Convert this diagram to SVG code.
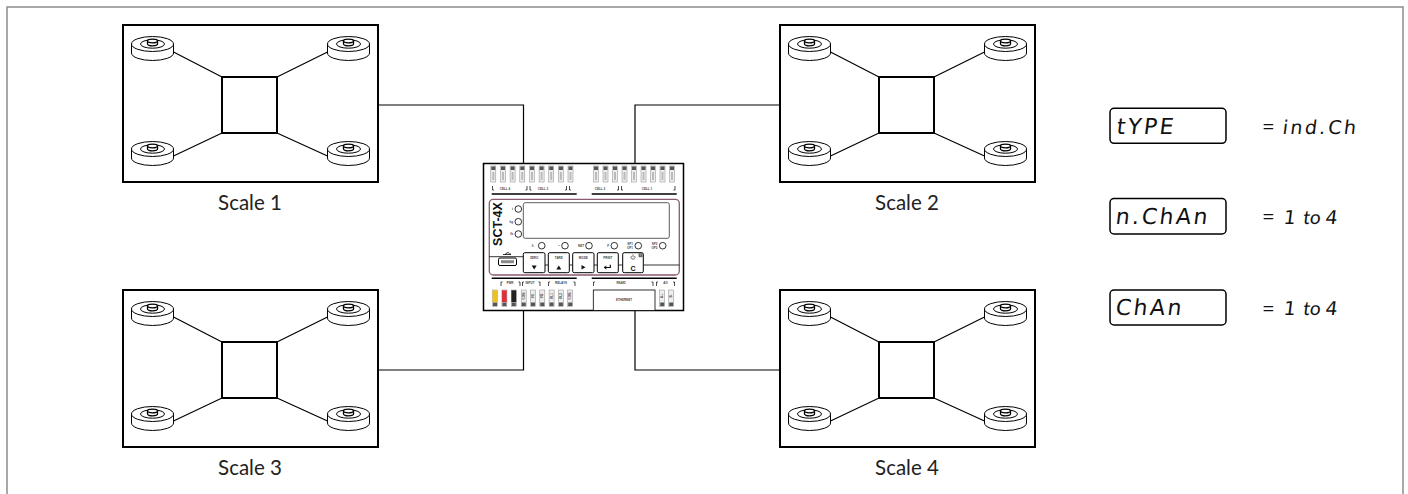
<svg xmlns="http://www.w3.org/2000/svg" xmlns:xlink="http://www.w3.org/1999/xlink" width="1408" height="494" viewBox="0 0 1408 494">
<style>
.frame{fill:none;stroke:#8c8c8c;stroke-width:1.5}
.ln{fill:none;stroke:#000}
.box{fill:#fff;stroke:#000;stroke-width:2}
.lbl{font-family:'Lato','Liberation Sans',sans-serif;font-weight:400;font-size:20.5px;fill:#222}
.seg{font-family:'DejaVu Sans',sans-serif;font-size:22px;letter-spacing:2.5px;fill:#111}
.seg2{font-family:'DejaVu Sans',sans-serif;font-size:19px;letter-spacing:2.5px;fill:#111}
.eq{font-family:'Lato','Liberation Sans',sans-serif;font-size:22px;fill:#111}
.to{font-family:'Lato','Liberation Sans',sans-serif;font-size:19px;fill:#111}
.tiny{font-family:'Liberation Sans',Arial,sans-serif;font-size:3px;font-weight:bold;fill:#444}
.btn{fill:#fff;stroke:#000;stroke-width:1}
.led{fill:#fff;stroke:#000;stroke-width:0.8}
.term{fill:#eee;stroke:#888;stroke-width:0.5}
.bar{stroke:#000;stroke-width:1.6}
.conn{fill:none;stroke:#000;stroke-width:1.2}
.disp{fill:#fff;stroke:#000;stroke-width:1.5}
</style>
<defs>
<g id="cell">
<path d="M-21 0 V9 A21 7.5 0 0 0 21 9 V0" fill="#fff" stroke="#000" stroke-width="1"/>
<ellipse rx="21" ry="7.5" fill="#fff" stroke="#000" stroke-width="1"/>
<ellipse rx="12" ry="4.2" fill="none" stroke="#000" stroke-width="1"/>
<path d="M-5 -3 V0 A5 1.8 0 0 0 5 0 V-3" fill="#fff" stroke="#000" stroke-width="1.3"/>
<ellipse cy="-3" rx="5" ry="1.8" fill="#fff" stroke="#000" stroke-width="1.3"/>
</g>
<g id="scaleBody">
<rect class="box" x="0" y="0" width="255" height="157"/>
<path class="ln" stroke-width="1.2" d="M50.5 27 L99 52 M204.5 27 L154 52 M50.5 131 L99 108 M204.5 131 L154 108"/>
<rect x="99" y="52" width="55" height="56" fill="#fff" stroke="#000" stroke-width="2"/>
<use xlink:href="#cell" x="29.5" y="19"/>
<use xlink:href="#cell" x="225.5" y="19"/>
<use xlink:href="#cell" x="29.5" y="124"/>
<use xlink:href="#cell" x="225.5" y="124"/>
</g>
<g id="tterm">
<rect class="term" x="-2.5" y="0" width="5" height="16"/>
<rect x="-2" y="0.5" width="4" height="3.5" fill="#555"/>
<rect x="-1" y="6" width="2" height="8" fill="#bbb"/>
</g>
<g id="bterm">
<rect class="term" x="-2.5" y="0" width="5" height="16.5"/>
<rect x="-2" y="12.5" width="4" height="3.5" fill="#555"/>
</g>
</defs>

<rect class="frame" x="7" y="7" width="1396" height="500"/>

<g id="connectors">
<path class="conn" d="M277 105 H523.5 V163.5"/>
<path class="conn" d="M879 105 H635 V163.5"/>
<path class="conn" d="M277 370 H523.5 V310.5"/>
<path class="conn" d="M879 370 H635 V310.5"/>
</g>

<g id="scale1">
<use xlink:href="#scaleBody" x="123" y="25"/>
<text class="lbl" x="250" y="210" text-anchor="middle">Scale 1</text>
</g>
<g id="scale2">
<use xlink:href="#scaleBody" x="780" y="25"/>
<text class="lbl" x="907" y="210" text-anchor="middle">Scale 2</text>
</g>
<g id="scale3">
<use xlink:href="#scaleBody" x="123" y="290"/>
<text class="lbl" x="250" y="475" text-anchor="middle">Scale 3</text>
</g>
<g id="scale4">
<use xlink:href="#scaleBody" x="780" y="290"/>
<text class="lbl" x="907" y="475" text-anchor="middle">Scale 4</text>
</g>

<g id="device">
<rect x="483.5" y="163.5" width="200" height="147" fill="#fff" stroke="#000" stroke-width="1.5"/>
<g transform="translate(0,166)">
<use xlink:href="#tterm" x="493.3"/><use xlink:href="#tterm" x="503"/><use xlink:href="#tterm" x="512.6"/><use xlink:href="#tterm" x="522.3"/><use xlink:href="#tterm" x="532"/><use xlink:href="#tterm" x="541.6"/><use xlink:href="#tterm" x="551.2"/><use xlink:href="#tterm" x="560.9"/><use xlink:href="#tterm" x="570.5"/>
<use xlink:href="#tterm" x="596"/><use xlink:href="#tterm" x="605.5"/><use xlink:href="#tterm" x="615"/><use xlink:href="#tterm" x="624.5"/><use xlink:href="#tterm" x="634"/><use xlink:href="#tterm" x="643.5"/><use xlink:href="#tterm" x="653"/><use xlink:href="#tterm" x="662.5"/><use xlink:href="#tterm" x="672"/>
</g>
<path class="ln" stroke-width="0.7" d="M492.5 186 V190 H494 M527 186 V190 H525.5 M530 186 V190 H531.5 M566.5 186 V190 H565 M569.5 186 V190 H571 M618.5 186 V190 H617 M621.5 186 V190 H623 M675 186 V190 H673.5"/>
<text class="tiny" x="505" y="190" text-anchor="middle">CELL 4</text>
<text class="tiny" x="543" y="190" text-anchor="middle">CELL 3</text>
<text class="tiny" x="600" y="190" text-anchor="middle">CELL 2</text>
<text class="tiny" x="647" y="190" text-anchor="middle">CELL 1</text>
<line class="bar" x1="491.7" y1="194" x2="576.7" y2="194"/>
<line class="bar" x1="591.7" y1="194" x2="676.7" y2="194"/>
<rect x="489.3" y="199.3" width="190" height="75.7" rx="4" fill="none" stroke="#8b5a72" stroke-width="1.3"/>
<rect x="523.3" y="202.7" width="146" height="35.6" rx="2" fill="none" stroke="#333" stroke-width="0.8"/>
<text transform="translate(501.5,224) rotate(-90)" text-anchor="middle" font-family="'Liberation Sans',Arial,sans-serif" font-weight="bold" font-size="12.5" fill="#111">SCT-4X</text>
<circle class="led" cx="518.3" cy="209" r="3.3"/>
<circle class="led" cx="518.3" cy="221.7" r="3.3"/>
<circle class="led" cx="518.3" cy="234" r="3.3"/>
<text class="tiny" x="513" y="210" text-anchor="end">t</text>
<text class="tiny" x="513" y="222.7" text-anchor="end">kg</text>
<text class="tiny" x="513" y="235" text-anchor="end">lb</text>
<circle class="led" cx="541.7" cy="245.7" r="3.3"/>
<circle class="led" cx="565" cy="245.7" r="3.3"/>
<circle class="led" cx="589" cy="245.7" r="3.3"/>
<circle class="led" cx="614.3" cy="245.7" r="3.3"/>
<circle class="led" cx="638.3" cy="245.7" r="3.3"/>
<circle class="led" cx="662.7" cy="245.7" r="3.3"/>
<text class="tiny" x="536.5" y="246.7" text-anchor="end">→0←</text>
<text class="tiny" x="560" y="246.7" text-anchor="end">~</text>
<text class="tiny" x="584" y="246.7" text-anchor="end">NET</text>
<text class="tiny" x="609" y="246.7" text-anchor="end">F</text>
<text class="tiny" x="633" y="245" text-anchor="end">SP1</text>
<text class="tiny" x="633" y="248.5" text-anchor="end">OP1</text>
<text class="tiny" x="657.5" y="245" text-anchor="end">SP2</text>
<text class="tiny" x="657.5" y="248.5" text-anchor="end">OP2</text>
<path class="ln" stroke-width="0.8" d="M489.3 256.7 H523.3 M545 265 H548.3 M569.3 265 H572.7 M594 265 H597.3 M618.3 265 H622.7 M643.3 265 H679.3"/>
<rect x="498.5" y="258" width="18" height="7.5" rx="1.5" fill="#fff" stroke="#000" stroke-width="1"/>
<rect x="501" y="260.2" width="13" height="3" fill="#888"/>
<path d="M503 254.5 H511 M505 254.5 L507 252.8 H509 M510 254.5 V253" stroke="#000" stroke-width="0.8" fill="none"/>
<rect class="btn" x="523.3" y="252.7" width="21.7" height="20" rx="1.5"/>
<rect class="btn" x="548.3" y="252.7" width="21" height="20" rx="1.5"/>
<rect class="btn" x="572.7" y="252.7" width="21.3" height="20" rx="1.5"/>
<rect class="btn" x="597.3" y="252.7" width="21" height="20" rx="1.5"/>
<rect class="btn" x="622.7" y="252.7" width="20.6" height="20" rx="1.5"/>
<text class="tiny" x="534.2" y="259" text-anchor="middle">ZERO</text>
<text class="tiny" x="558.8" y="259" text-anchor="middle">TARE</text>
<text class="tiny" x="583.3" y="259" text-anchor="middle">MODE</text>
<text class="tiny" x="607.8" y="259" text-anchor="middle">PRINT</text>
<polygon points="531.7,265.5 536.7,265.5 534.2,269.5" fill="#111"/>
<polygon points="556.3,269.5 561.3,269.5 558.8,265.5" fill="#111"/>
<polygon points="581.5,265 581.5,269.5 585.5,267.25" fill="#111"/>
<path d="M610.3 264.8 V267.5 H606" fill="none" stroke="#111" stroke-width="1.2"/>
<polygon points="606.3,265.6 606.3,269.4 603.6,267.5" fill="#111"/>
<path d="M631.4 256 A2 2 0 1 0 634.6 256 M633 254.3 V257" fill="none" stroke="#111" stroke-width="0.6"/>
<text x="633" y="270.5" text-anchor="middle" font-family="'Liberation Sans',Arial,sans-serif" font-weight="bold" font-size="7" fill="#111">C</text>
<rect x="638.6" y="253.2" width="4" height="4" fill="#666"/>
<text x="640.6" y="256.4" text-anchor="middle" font-family="'Liberation Sans',Arial,sans-serif" font-size="3" fill="#fff">i</text>
<line class="bar" x1="491.7" y1="278.3" x2="576.7" y2="278.3"/>
<line class="bar" x1="591.7" y1="278.3" x2="676.7" y2="278.3"/>
<path class="ln" stroke-width="0.7" d="M501 286 V282 H502.5 M520 286 V282 H518.5 M522.5 286 V282 H524 M540 286 V282 H538.5 M548.5 286 V282 H550 M575 286 V282 H573.5 M593.5 286 V282 H595 M653 286 V282 H651.5 M656.5 286 V282 H658 M674.5 286 V282 H673"/>
<text class="tiny" x="510" y="284" text-anchor="middle">PWR</text>
<text class="tiny" x="530" y="284" text-anchor="middle">INPUT</text>
<text class="tiny" x="561" y="284" text-anchor="middle">RELAYS</text>
<text class="tiny" x="621" y="284" text-anchor="middle">RS485</text>
<text class="tiny" x="665.5" y="284" text-anchor="middle">AO</text>
<g transform="translate(0,290)">
<use xlink:href="#bterm" x="495"/><use xlink:href="#bterm" x="504.4"/><use xlink:href="#bterm" x="513.8"/><use xlink:href="#bterm" x="523.7"/><use xlink:href="#bterm" x="533"/><use xlink:href="#bterm" x="542.3"/><use xlink:href="#bterm" x="551.6"/><use xlink:href="#bterm" x="560.9"/><use xlink:href="#bterm" x="570.2"/>
<use xlink:href="#bterm" x="662.2"/><use xlink:href="#bterm" x="671.2"/>
</g>
<rect x="492.6" y="290.3" width="4.8" height="11.8" fill="#f0c020"/>
<rect x="502" y="290.3" width="4.8" height="11.8" fill="#d8323c"/>
<rect x="511.4" y="290.3" width="4.8" height="11.8" fill="#222"/>
<text class="tiny" transform="translate(524.8,296) rotate(-90)" text-anchor="middle" font-size="2.6">COM</text>
<text class="tiny" transform="translate(534.1,296) rotate(-90)" text-anchor="middle" font-size="2.6">IN1</text>
<text class="tiny" transform="translate(543.4,296) rotate(-90)" text-anchor="middle" font-size="2.6">IN2</text>
<text class="tiny" transform="translate(552.7,296) rotate(-90)" text-anchor="middle" font-size="2.6">RL1</text>
<text class="tiny" transform="translate(562,296) rotate(-90)" text-anchor="middle" font-size="2.6">RL2</text>
<text class="tiny" transform="translate(571.3,296) rotate(-90)" text-anchor="middle" font-size="2.6">COM</text>
<text class="tiny" transform="translate(663.3,296) rotate(-90)" text-anchor="middle" font-size="2.6">A+</text>
<text class="tiny" transform="translate(672.3,296) rotate(-90)" text-anchor="middle" font-size="2.6">B-</text>
<rect x="593.3" y="290" width="61.7" height="20.5" fill="#fff" stroke="#000" stroke-width="0.8"/>
<text class="tiny" x="624" y="301" text-anchor="middle">ETHERNET</text>
</g>

<g id="param-type">
<rect class="disp" x="1110" y="108.3" width="116" height="35" rx="4"/>
<text class="seg" transform="translate(1116,133.5) skewX(-7)">tYPE</text>
<text class="eq" x="1262" y="134">=</text>
<text class="seg2" transform="translate(1282,133.5) skewX(-7)">ind.Ch</text>
</g>
<g id="param-nchan">
<rect class="disp" x="1110" y="198.5" width="116" height="35.5" rx="4"/>
<text class="seg" transform="translate(1115,224) skewX(-7)">n.ChAn</text>
<text class="eq" x="1262" y="224">=</text>
<text transform="translate(1283,223.5) skewX(-7)"><tspan class="seg2">1</tspan><tspan class="to"> to </tspan><tspan class="seg2">4</tspan></text>
</g>
<g id="param-chan">
<rect class="disp" x="1110" y="290" width="116" height="35" rx="4"/>
<text class="seg" transform="translate(1115,315) skewX(-7)">ChAn</text>
<text class="eq" x="1262" y="315.5">=</text>
<text transform="translate(1283,315) skewX(-7)"><tspan class="seg2">1</tspan><tspan class="to"> to </tspan><tspan class="seg2">4</tspan></text>
</g>
</svg>
